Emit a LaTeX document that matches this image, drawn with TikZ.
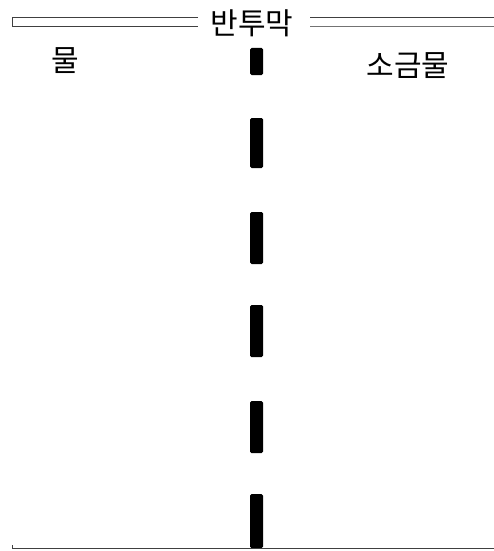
\documentclass[tikz,border=0pt]{standalone}
\usepackage{fontspec}
\newfontfamily\kr{Noto Sans CJK KR}
\tikzset{
  lbl/.style={font=\kr\fontsize{30}{30}\selectfont, inner sep=0pt, anchor=center},
  dashbar/.style={fill=black, rounded corners=1.5pt},
  rule/.style={draw=black!75, line width=1pt}
}
\begin{document}
\begin{tikzpicture}[x=1pt,y=-1pt]
\useasboundingbox (0,0) rectangle (494,551);
% top membrane label and double line
\node[lbl] (title) at (252,23) {반투막};
\coordinate (tl1) at (12,18);
\coordinate (tl2) at (12,27);
\coordinate (tm1) at (198,18);
\coordinate (tm2) at (198,27);
\coordinate (tr1) at (310,18);
\coordinate (tr2) at (310,27);
\coordinate (te1) at (494,18);
\coordinate (te2) at (494,27);
\draw[rule] (tm1) -- (tl1) -- (tl2) -- (tm2);
\draw[rule] (tr1) -- (te1);
\draw[rule, draw=black!55] (tr2) -- (te2);
% side labels
\node[lbl] (water) at (65,61) {물};
\node[lbl] (salt) at (408,66) {소금물};
% dashed membrane
\foreach \a/\b [count=\i] in {48/75,118/168,212/264,305/357,401/453,494/548}
  \fill[dashbar] (250,\a) rectangle (263,\b);
% bottom line
\coordinate (bl) at (12,548);
\coordinate (bt) at (12,545);
\coordinate (br) at (494,548);
\draw[rule] (bt) -- (bl) -- (br);
\end{tikzpicture}
\end{document}
